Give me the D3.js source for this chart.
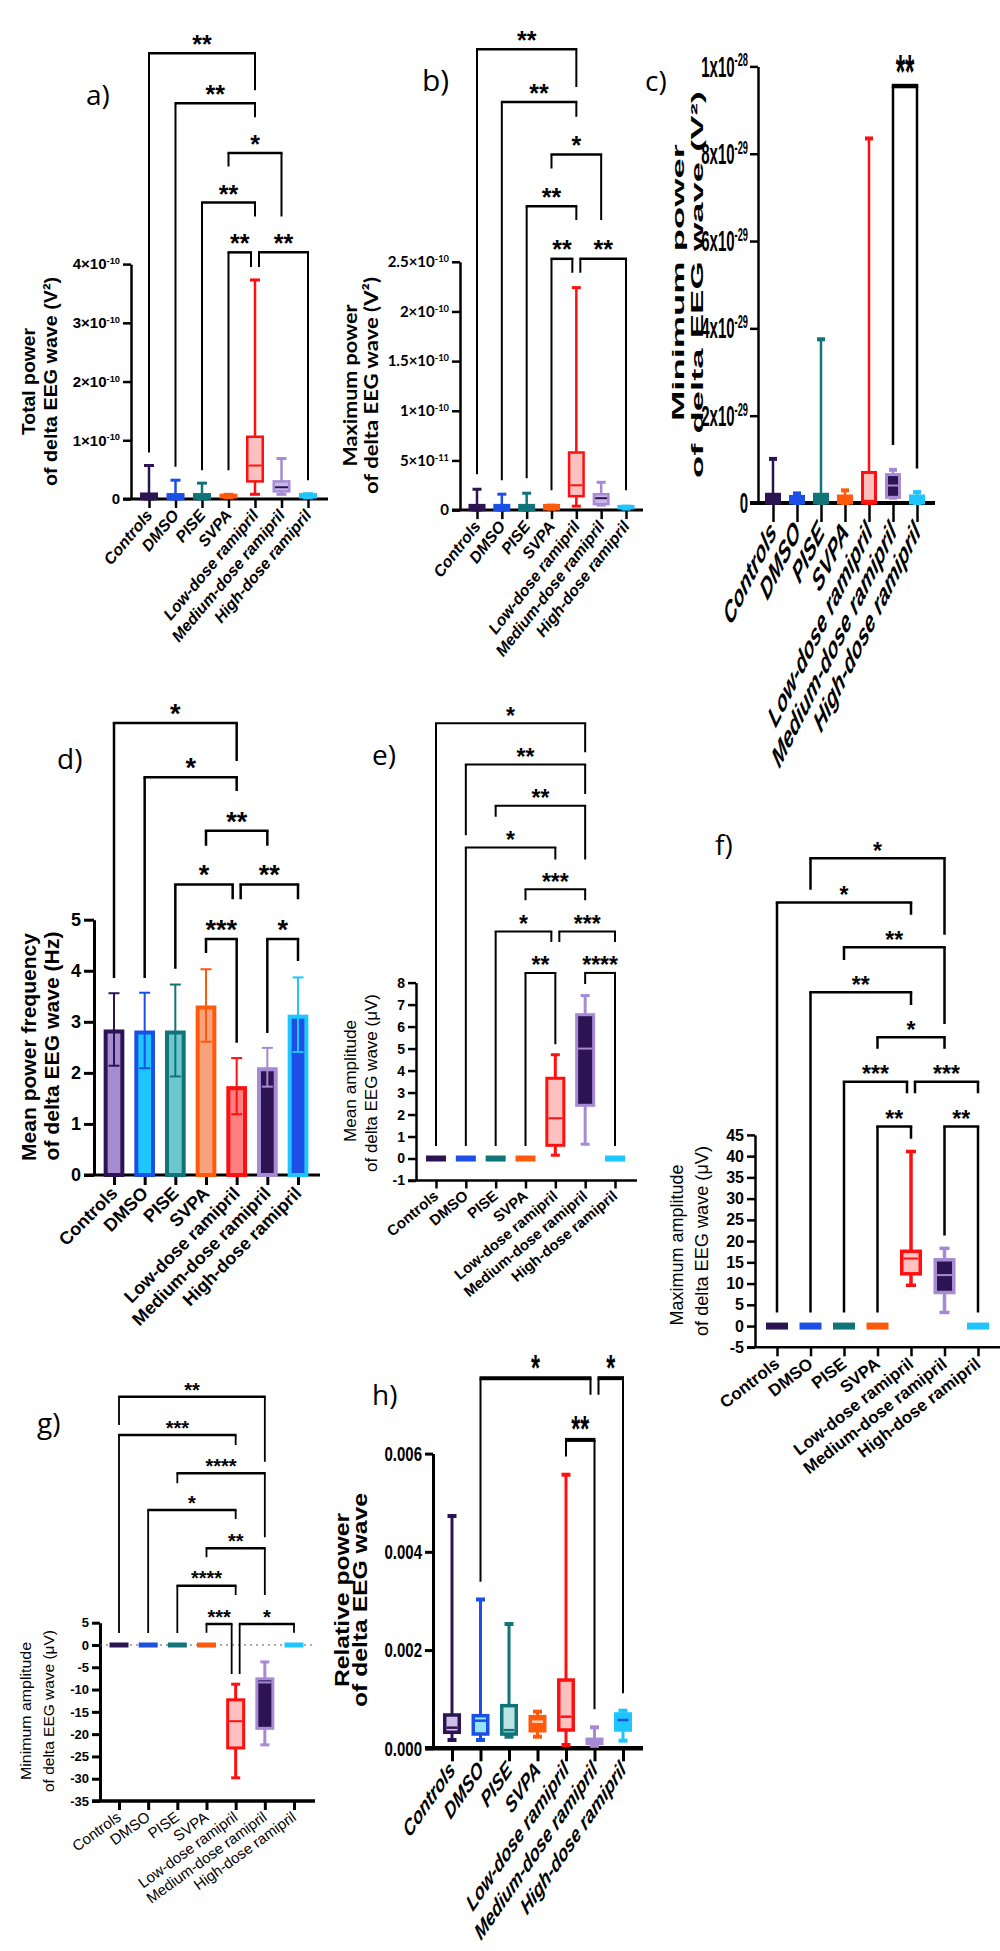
<!DOCTYPE html>
<html>
<head>
<meta charset="utf-8">
<script src="https://cdn.jsdelivr.net/npm/d3@7"></script>
<style>
body { margin: 0; background: #fff; }
svg { display: block; font-family: "Liberation Sans", Arial, sans-serif; }
</style>
</head>
<body>
<svg id="fig" width="1000" height="1951"></svg>
<script>
const groups = ["Controls", "DMSO", "PISE", "SVPA", "Low-dose ramipril", "Medium-dose ramipril", "High-dose ramipril"];

// box plots: [min, q1, median, q3, max] per group
// a) total power (V²)
const totalPower = [
  [0, 0, 0.04e-10, 0.09e-10, 0.57e-10],
  [0, 0, 0.04e-10, 0.08e-10, 0.32e-10],
  [0, 0.01e-10, 0.04e-10, 0.08e-10, 0.27e-10],
  [0.02e-10, 0.03e-10, 0.05e-10, 0.07e-10, 0.08e-10],
  [0.08e-10, 0.30e-10, 0.57e-10, 1.06e-10, 3.73e-10],
  [0.08e-10, 0.13e-10, 0.20e-10, 0.30e-10, 0.69e-10],
  [0.02e-10, 0.03e-10, 0.05e-10, 0.08e-10, 0.09e-10]
];
const totalPowerTicks = [0, 1e-10, 2e-10, 3e-10, 4e-10];
// [from, to, label, bracket level, left leg end, right leg end]
const totalPowerSig = [
  [0, 4, "**", 7.59e-10, 0.79e-10, 6.96e-10],
  [1, 4, "**", 6.74e-10, 0.55e-10, 6.50e-10],
  [3, 5, "*", 5.89e-10, 5.66e-10, 4.81e-10],
  [2, 4, "**", 5.05e-10, 0.49e-10, 4.81e-10],
  [3, 4, "**", 4.20e-10, 0.49e-10, 3.95e-10],
  [4, 6, "**", 4.20e-10, 3.95e-10, 0.32e-10]
];

// b) maximum power (V²)
const maxPower = [
  [0, 0, 0.02e-10, 0.05e-10, 0.21e-10],
  [0, 0, 0.02e-10, 0.05e-10, 0.16e-10],
  [0, 0, 0.02e-10, 0.05e-10, 0.17e-10],
  [0.01e-10, 0.01e-10, 0.03e-10, 0.05e-10, 0.05e-10],
  [0.04e-10, 0.14e-10, 0.25e-10, 0.58e-10, 2.24e-10],
  [0.05e-10, 0.06e-10, 0.12e-10, 0.16e-10, 0.28e-10],
  [0.01e-10, 0.02e-10, 0.03e-10, 0.04e-10, 0.04e-10]
];
const maxPowerTicks = [0, 5e-11, 1e-10, 1.5e-10, 2e-10, 2.5e-10];
const maxPowerSig = [
  [0, 4, "**", 4.64e-10, 0.36e-10, 4.26e-10],
  [1, 4, "**", 4.11e-10, 0.30e-10, 3.96e-10],
  [3, 5, "*", 3.58e-10, 3.44e-10, 2.92e-10],
  [2, 4, "**", 3.06e-10, 0.32e-10, 2.92e-10],
  [3, 4, "**", 2.53e-10, 0.20e-10, 2.39e-10],
  [4, 6, "**", 2.53e-10, 2.39e-10, 0.20e-10]
];

// c) minimum power (V²)
const minPower = [
  [0, 0, 0.05e-29, 0.20e-29, 1.01e-29],
  [0, 0, 0.05e-29, 0.15e-29, 0.22e-29],
  [0, 0, 0.05e-29, 0.20e-29, 3.75e-29],
  [0, 0, 0.05e-29, 0.16e-29, 0.29e-29],
  [0, 0, 0.05e-29, 0.70e-29, 8.35e-29],
  [0.12e-29, 0.13e-29, 0.40e-29, 0.65e-29, 0.76e-29],
  [0, 0, 0.05e-29, 0.16e-29, 0.25e-29]
];
const minPowerTicks = [0, 2e-29, 4e-29, 6e-29, 8e-29, 1e-28];
const minPowerSig = [[5, 6, "**", 9.55e-29, 1.33e-29, 0.79e-29]];

// d) mean power frequency (Hz): mean and SD
const meanFreq = [2.85, 2.83, 2.83, 3.32, 1.74, 2.11, 3.14];
const meanFreqSD = [0.71, 0.74, 0.90, 0.71, 0.55, 0.38, 0.73];
const meanFreqTicks = [0, 1, 2, 3, 4, 5];
const meanFreqSig = [
  [0, 4, "*", 8.85, 3.86, 8.11],
  [1, 4, "*", 7.79, 3.86, 7.52],
  [3, 5, "**", 6.74, 6.45, 6.45],
  [2, 4, "*", 5.69, 4.04, 5.40],
  [4, 6, "**", 5.69, 5.40, 5.40],
  [3, 4, "***", 4.62, 4.35, 2.59],
  [5, 6, "*", 4.62, 2.78, 4.19]
];

// e) mean amplitude (µV)
const meanAmp = [
  [0, 0, 0, 0, 0], [0, 0, 0, 0, 0], [0, 0, 0, 0, 0], [0, 0, 0, 0, 0],
  [0.15, 0.60, 1.83, 3.65, 4.72],
  [0.65, 2.42, 5.00, 6.54, 7.41],
  [0, 0, 0, 0, 0]
];
const meanAmpTicks = [-1, 0, 1, 2, 3, 4, 5, 6, 7, 8];
const meanAmpSig = [
  [0, 5, "*", 19.79, 0.57, 18.48],
  [1, 5, "**", 17.92, 14.70, 16.58],
  [2, 5, "**", 16.04, 15.54, 13.60],
  [1, 4, "*", 14.14, 0.57, 13.60],
  [3, 5, "***", 12.24, 11.74, 11.74],
  [2, 4, "*", 10.32, 0.57, 9.85],
  [4, 6, "***", 10.32, 9.85, 9.85],
  [3, 4, "**", 8.44, 0.57, 5.20],
  [5, 6, "****", 8.44, 7.94, 0.57]
];

// f) maximum amplitude (µV)
const maxAmp = [
  [0, 0, 0, 0, 0], [0, 0, 0, 0, 0], [0, 0, 0, 0, 0], [0, 0, 0, 0, 0],
  [9.6, 12.3, 15.9, 17.6, 41.1],
  [3.2, 7.9, 12.0, 15.6, 18.3],
  [0, 0, 0, 0, 0]
];
const maxAmpTicks = [-5, 0, 5, 10, 15, 20, 25, 30, 35, 40, 45];
const maxAmpSig = [
  [1, 5, "*", 110.1, 102.7, 92.1],
  [0, 4, "*", 99.7, 3.2, 96.8],
  [2, 5, "**", 89.2, 86.2, 71.1],
  [1, 4, "**", 78.6, 3.2, 75.6],
  [3, 5, "*", 68.0, 65.3, 65.3],
  [2, 4, "***", 57.5, 3.2, 54.8],
  [4, 6, "***", 57.5, 54.8, 54.8],
  [3, 4, "**", 47.0, 3.2, 44.1],
  [5, 6, "**", 47.0, 21.3, 3.2]
];

// g) minimum amplitude (µV)
const minAmp = [
  [0, 0, 0, 0, 0], [0, 0, 0, 0, 0], [0, 0, 0, 0, 0], [0, 0, 0, 0, 0],
  [-29.8, -23.1, -17.1, -12.3, -8.8],
  [-22.4, -18.7, -8.4, -7.6, -3.8],
  [0, 0, 0, 0, 0]
];
const minAmpTicks = [-35, -30, -25, -20, -15, -10, -5, 0, 5];
const minAmpSig = [
  [0, 5, "**", 55.67, 49.33, 41.10],
  [0, 4, "***", 47.09, 2.69, 44.84],
  [2, 5, "****", 38.50, 36.26, 24.15],
  [1, 4, "*", 30.27, 2.69, 28.25],
  [3, 5, "**", 21.68, 19.66, 11.21],
  [2, 4, "****", 13.30, 2.69, 11.21],
  [3, 4, "***", 4.71, 2.76, -6.50],
  [4, 6, "*", 4.71, -6.50, 2.76]
];

// h) relative power
const relPower = [
  [0.000169, 0.000326, 0.00042, 0.000678, 0.00473],
  [0.000169, 0.000291, 0.000562, 0.000664, 0.00303],
  [0.000236, 0.00029, 0.00037, 0.000868, 0.00253],
  [0.000236, 0.000358, 0.000542, 0.000644, 0.000746],
  [0.000067, 0.000373, 0.000644, 0.00139, 0.00557],
  [0.00005, 0.0001, 0.00015, 0.000183, 0.000427],
  [0.000156, 0.000373, 0.000576, 0.000699, 0.000766]
];
const relPowerTicks = [0, 0.002, 0.004, 0.006];
const relPowerSig = [
  [1, 5, "*", 0.007536, 0.003393, 0.007196],
  [5, 6, "*", 0.007536, 0.007196, 0.00112],
  [4, 5, "**", 0.006279, 0.005939, 0.000794]
];

// colours
const c = {
  ctrl: "#2c1452", dmso: "#1b4fe6", pise: "#117479", svpa: "#ff5a0c",
  low: "#ff1010", med: "#a68ad3", high: "#1fc5ff", pink: "#ffc0c0"
};
const solidStyle = [
  { s: c.ctrl, f: c.ctrl }, { s: c.dmso, f: c.dmso }, { s: c.pise, f: c.pise }, { s: c.svpa, f: c.svpa },
  { s: c.low, f: c.pink, m: c.low }, { s: c.med, f: "#c9b6e8", m: c.ctrl }, { s: c.high, f: c.high }
];
const darkMedStyle = solidStyle.map((d, i) => i === 5 ? { s: c.med, f: c.ctrl, m: c.med } : d);
const relStyle = [
  { s: c.ctrl, f: "#cdbfe8", m: c.ctrl }, { s: c.dmso, f: "#93e4ff", m: c.dmso }, { s: c.pise, f: "#bde4e4", m: c.pise },
  { s: c.svpa, f: c.svpa, m: "#ffd2b5" }, { s: c.low, f: c.pink, m: c.low }, { s: c.med, f: c.med, m: c.med },
  { s: c.high, f: c.high, m: c.dmso }
];
const barFill = ["#a68bd1", "#1dc6ff", "#6cc8cd", "#f8a37e", "#ff8080", c.ctrl, c.dmso];
const barStroke = [c.ctrl, c.dmso, c.pise, c.svpa, c.low, c.med, c.high];

const svg = d3.select("#fig");

function sciLabel(text, d, sep) {
  text.text(null);
  if (d === 0) { text.text("0"); return; }
  const e = Math.floor(Math.log10(d) + 1e-9);
  const m = +(d / Math.pow(10, e)).toFixed(2);
  text.append("tspan").text(m + sep + "10");
  text.append("tspan").attr("dy", "-0.55em").attr("font-size", "0.62em").text(e);
}

function makePanel(p) {
  const g = svg.append("g");
  const x = d3.scalePoint().domain(groups).range(p.xr);
  const y = d3.scaleLinear().domain(p.dom).range(p.yr);

  // x axis
  g.append("line").attr("x1", p.ax - p.tick).attr("x2", p.xEnd)
    .attr("y1", p.yr[0]).attr("y2", p.yr[0])
    .attr("stroke", "#000").attr("stroke-width", p.xw);
  const xAx = g.append("g").attr("transform", `translate(0,${p.yr[0]})`)
    .call(d3.axisBottom(x).tickSize(p.xtick).tickFormat(""));
  xAx.select(".domain").remove();
  xAx.selectAll(".tick line").attr("stroke-width", p.xtw);

  // y axis
  const yAx = g.append("g").attr("transform", `translate(${p.ax},0)`)
    .call(d3.axisLeft(y).tickValues(p.ticks).tickSize(p.tick).tickSizeOuter(0)
      .tickPadding(p.pad || 3).tickFormat(d => String(d)));
  yAx.attr("font-family", p.tff || null).attr("font-size", p.tfs).attr("font-weight", p.tfw || "bold");
  yAx.select(".domain").attr("stroke-width", p.yw);
  yAx.selectAll(".tick line").attr("stroke-width", p.yw);
  yAx.selectAll(".tick text").attr("fill", "#000");
  if (p.fmt) yAx.selectAll(".tick text").text(p.fmt);
  if (p.sci) yAx.selectAll(".tick text").each(function (d) { sciLabel(d3.select(this), d, p.sci); });
  if (p.tst) yAx.selectAll(".tick text").attr("transform", `scale(1,${p.tst})`);

  // category labels
  groups.forEach(gr => {
    g.append("text")
      .attr("transform", `translate(${x(gr) + (p.ldx || 0)},${p.yr[0] + p.xtick + p.lgap}) scale(1,${p.lst || 1}) rotate(${-p.la})`)
      .attr("text-anchor", "end").attr("dy", "0.35em")
      .attr("font-family", p.lff || null)
      .attr("font-size", p.lfs).attr("font-weight", p.lfw || "bold")
      .attr("font-style", p.lit ? "italic" : null)
      .text(gr);
  });

  // axis title
  p.title.forEach(t => {
    g.append("text").attr("transform", `translate(${t[0]},${t[1]}) rotate(-90)`)
      .attr("text-anchor", "middle").attr("font-family", p.tff || null)
      .attr("font-size", p.yfs).attr("font-weight", p.yfw || "bold")
      .attr("textLength", t[3]).attr("lengthAdjust", "spacingAndGlyphs")
      .text(t[2]);
  });

  // panel letter
  g.append("text").attr("x", p.lab[0]).attr("y", p.lab[1])
    .attr("font-family", "'Open Sans', sans-serif").attr("font-size", p.labFs || 28)
    .text(p.lab[2]);

  return { g, x, y };
}

function drawBoxes(P, data, st, o) {
  const { g, x, y } = P;
  data.forEach((b, i) => {
    const cx = x(groups[i]), s = st[i];
    const [mn, q1, md, q3, mx] = b;
    if (mn === mx) {
      g.append("rect").attr("x", cx - o.w / 2).attr("y", y(md) - o.fh / 2)
        .attr("width", o.w).attr("height", o.fh).attr("fill", s.f);
      return;
    }
    const wg = g.append("g").attr("stroke", s.s).attr("stroke-width", o.ww);
    wg.append("line").attr("x1", cx).attr("x2", cx).attr("y1", y(mn)).attr("y2", y(mx));
    [mn, mx].forEach(v => wg.append("line")
      .attr("x1", cx - o.cap / 2).attr("x2", cx + o.cap / 2)
      .attr("y1", y(v)).attr("y2", y(v)).attr("stroke-width", o.cw || o.ww));
    g.append("rect").attr("x", cx - o.w / 2 + o.bw / 2).attr("y", y(q3))
      .attr("width", o.w - o.bw).attr("height", Math.max(0, y(q1) - y(q3)))
      .attr("fill", s.f).attr("stroke", s.s).attr("stroke-width", o.bw);
    g.append("line").attr("x1", cx - o.w / 2 + o.bw).attr("x2", cx + o.w / 2 - o.bw)
      .attr("y1", y(md)).attr("y2", y(md))
      .attr("stroke", s.m || s.s).attr("stroke-width", o.mw || 2);
  });
}

function drawBars(P, means, sds, o) {
  const { g, x, y } = P;
  means.forEach((m, i) => {
    const cx = x(groups[i]);
    g.append("rect").attr("x", cx - o.w / 2 + o.sw / 2).attr("y", y(m) + o.sw / 2)
      .attr("width", o.w - o.sw).attr("height", y(0) - y(m) - o.sw / 2)
      .attr("fill", barFill[i]).attr("stroke", barStroke[i]).attr("stroke-width", o.sw);
    const e = g.append("g").attr("stroke", barStroke[i]).attr("stroke-width", o.ew);
    e.append("line").attr("x1", cx).attr("x2", cx).attr("y1", y(m - sds[i])).attr("y2", y(m + sds[i]));
    [m - sds[i], m + sds[i]].forEach(v => e.append("line")
      .attr("x1", cx - o.cap / 2).attr("x2", cx + o.cap / 2).attr("y1", y(v)).attr("y2", y(v)));
  });
}

function drawSig(P, sig, o) {
  const { g, x, y } = P;
  sig.forEach(s => {
    const [i, j, lab, yl, ya, yb] = s;
    let xa = x(groups[i]), xb = x(groups[j]);
    if (sig.some(t => t !== s && t[0] === j && t[3] === yl)) xb -= 4;
    if (sig.some(t => t !== s && t[1] === i && t[3] === yl)) xa += 4;
    g.append("path").attr("d", `M${xa},${y(ya)}V${y(yl)}M${xb},${y(yl)}V${y(yb)}`)
      .attr("fill", "none").attr("stroke", "#000").attr("stroke-width", o.lw);
    g.append("line").attr("x1", xa - o.lw / 2).attr("x2", xb + o.lw / 2)
      .attr("y1", y(yl)).attr("y2", y(yl)).attr("stroke", "#000").attr("stroke-width", o.hw);
    g.append("text")
      .attr("transform", `translate(${(xa + xb) / 2},${y(yl) - o.so}) scale(1,${o.ss || 1})`)
      .attr("y", 0.585 * o.fs).attr("text-anchor", "middle")
      .attr("font-size", o.fs).attr("font-weight", "bold").attr("letter-spacing", o.ls || 0)
      .text(lab);
  });
}

// ---- a) ----
const pa = makePanel({
  dom: [0, 4e-10], yr: [499, 264.1], ax: 131, xr: [149, 308], xEnd: 328,
  ticks: totalPowerTicks, sci: "×", tfs: 15, tick: 8, yw: 2.5, xw: 3, xtick: 9, xtw: 2.5,
  lfs: 16, lit: true, la: 50, lgap: 4,
  yfs: 19, title: [[34.75, 381.5, "Total power", 107], [56.75, 381.5, "of delta EEG wave (V²)", 209]],
  lab: [86, 105, "a)"]
});
drawSig(pa, totalPowerSig, { lw: 2, hw: 2.5, fs: 25, so: 14.5 });
drawBoxes(pa, totalPower, solidStyle, { w: 18, cap: 10, bw: 2.5, ww: 2.5, cw: 3 });

// ---- b) ----
const pb = makePanel({
  dom: [0, 2.5e-10], yr: [510.1, 261.8], ax: 460, xr: [477, 626], xEnd: 643,
  ticks: maxPowerTicks, sci: "×", tfs: 15, tff: "Lato, sans-serif", tick: 8, yw: 2.5, xw: 3, xtick: 9, xtw: 2.5,
  lfs: 16, lit: true, la: 52, lgap: 4,
  yfs: 19, title: [[357.3, 385.5, "Maximum power", 162], [378, 385.5, "of delta EEG wave (V²)", 217]],
  lab: [422, 91, "b)"], labFs: 30
});
drawSig(pb, maxPowerSig, { lw: 2, hw: 2.5, fs: 25, so: 15 });
drawBoxes(pb, maxPower, solidStyle, { w: 17, cap: 9, bw: 2.5, ww: 2.5, cw: 3 });

// ---- c) ----
const pc = makePanel({
  dom: [0, 1e-28], yr: [503, 66.4], ax: 758, xr: [773, 917], xEnd: 935,
  ticks: minPowerTicks, sci: "x", tfs: 15, tst: 2, pad: 2, tick: 8, yw: 2.5, xw: 4, xtick: 19, xtw: 2.5,
  lfs: 17, lit: true, la: 48, lst: 1.8, lgap: 4,
  yfs: 17, title: [[684, 282.5, "Minimum power", 277], [702.5, 284.5, "of delta EEG wave (V²)", 387]],
  lab: [645, 91, "c)"]
});
drawSig(pc, minPowerSig, { lw: 2.5, hw: 4.5, fs: 24, so: 26, ss: 2 });
drawBoxes(pc, minPower, darkMedStyle, { w: 16, cap: 8, bw: 3, ww: 2.5, cw: 4 });

// ---- d) ----
const pd = makePanel({
  dom: [0, 5], yr: [1175, 919.7], ax: 94, xr: [114, 298], xEnd: 320,
  ticks: meanFreqTicks, tfs: 18, tick: 10, yw: 3, xw: 3, xtick: 10, xtw: 3,
  lfs: 18, la: 45, lgap: 5,
  yfs: 20, title: [[35.5, 1047, "Mean power frequency", 228], [59, 1046, "of delta EEG wave (Hz)", 229]],
  lab: [57, 769, "d)"]
});
drawSig(pd, meanFreqSig, { lw: 2.5, hw: 2.5, fs: 27, so: 16 });
drawBars(pd, meanFreq, meanFreqSD, { w: 20.7, sw: 4, cap: 11, ew: 2 });

// ---- e) ----
const pe = makePanel({
  dom: [-1, 8], yr: [1180.5, 982.6], ax: 416, xr: [436, 615], xEnd: 637,
  ticks: meanAmpTicks, tfs: 14, tick: 8, yw: 2.5, xw: 2.5, xtick: 8, xtw: 2.5,
  lfs: 15, la: 40, lgap: 5,
  yfs: 16, yfw: "normal", title: [[355.5, 1081, "Mean amplitude", 122], [377.3, 1083, "of delta EEG wave (μV)", 178]],
  lab: [372, 765, "e)"]
});
drawSig(pe, meanAmpSig, { lw: 2, hw: 2, fs: 23, so: 13 });
drawBoxes(pe, meanAmp, darkMedStyle, { w: 20, cap: 9, bw: 3, ww: 3, fh: 6 });

// ---- f) ----
const pf = makePanel({
  dom: [-5, 45], yr: [1347.3, 1134.9], ax: 755, xr: [777, 978], xEnd: 1000,
  ticks: maxAmpTicks, tfs: 16, tick: 8, yw: 2.5, xw: 2.5, xtick: 9, xtw: 2.5,
  lfs: 17, la: 38, lgap: 5,
  yfs: 18, yfw: "normal", title: [[682.5, 1245, "Maximum amplitude", 161], [707.5, 1241, "of delta EEG wave (μV)", 190]],
  lab: [715, 855, "f)"]
});
drawSig(pf, maxAmpSig, { lw: 2.5, hw: 2.5, fs: 23, so: 13 });
drawBoxes(pf, maxAmp, darkMedStyle, { w: 22, cap: 10, bw: 3.5, ww: 3.5, fh: 7 });

// ---- g) ----
const pg = makePanel({
  dom: [-35, 5], yr: [1801, 1622.7], ax: 100, xr: [119, 294], xEnd: 315,
  ticks: minAmpTicks, tfs: 13, tick: 8, yw: 3, xw: 3.5, xtick: 9, xtw: 3,
  lfs: 15, lfw: "normal", la: 36, lgap: 5,
  yfs: 15.5, yfw: "normal", title: [[31.4, 1711, "Minimum amplitude", 138], [53.9, 1711, "of delta EEG wave (μV)", 162]],
  lab: [37, 1433, "g)"]
});
pg.g.append("line").attr("x1", 100).attr("x2", 315).attr("y1", pg.y(0)).attr("y2", pg.y(0))
  .attr("stroke", "#555").attr("stroke-width", 1.2).attr("stroke-dasharray", "2,4");
drawSig(pg, minAmpSig, { lw: 1.8, hw: 2.5, fs: 20, so: 12 });
drawBoxes(pg, minAmp, darkMedStyle, { w: 19, cap: 9, bw: 3, ww: 3, fh: 5 });

// ---- h) ----
const ph = makePanel({
  dom: [0, 0.006], yr: [1748.3, 1453.6], ax: 433, xr: [452, 623], xEnd: 643,
  ticks: relPowerTicks, fmt: d3.format(".3f"), tfs: 15, tst: 1.4, tick: 8, yw: 3, xw: 4.5, xtick: 13, xtw: 3,
  lfs: 16, lit: true, la: 45, lst: 1.45, lgap: 4,
  yfs: 21, title: [[349, 1600, "Relative power", 174], [367, 1600, "of delta EEG wave", 214]],
  lab: [372, 1405, "h)"]
});
drawSig(ph, relPowerSig, { lw: 2, hw: 4, fs: 23, so: 19, ss: 1.6 });
drawBoxes(ph, relPower, relStyle, { w: 18, cap: 9, bw: 3.5, ww: 3, cw: 4, mw: 2.5 });
</script>
</body>
</html>
